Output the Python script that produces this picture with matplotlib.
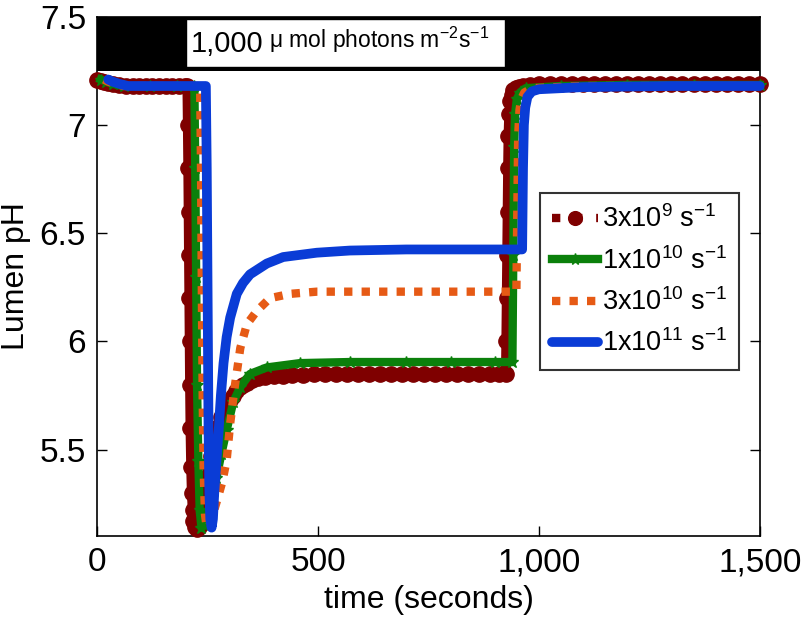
import matplotlib
matplotlib.use("Agg")
import matplotlib.pyplot as plt
from matplotlib.patches import Rectangle
from matplotlib.lines import Line2D

plt.rcParams['font.family'] = ['Liberation Sans', 'DejaVu Sans']
plt.rcParams['mathtext.fontset'] = 'custom'
plt.rcParams['mathtext.rm'] = 'Liberation Sans'
plt.rcParams['mathtext.it'] = 'Liberation Sans:italic'

# ---- data ----
red_t = [0, 8, 16, 25, 35, 50, 65, 80, 95, 110, 125, 140, 155, 170, 185, 198, 204,
         205, 206, 206.8, 207.6, 208.4, 209.2, 210, 211, 212.5, 214, 216, 218, 221, 226,
         230, 234, 238, 242, 246, 250, 254, 258, 263, 269, 275, 280, 286, 293, 300, 308,
         315, 323, 331, 340, 350, 365, 380, 400, 420, 440, 465, 490, 515, 540, 565, 590,
         615, 640, 665, 690, 715, 740, 765, 790, 815, 840, 865, 890, 910, 925,
         926, 927, 928, 929, 930, 931, 932.5, 935, 938, 942, 948, 955, 965, 980, 1000,
         1025, 1050, 1075, 1100, 1125, 1150, 1175, 1200, 1225, 1250, 1275, 1300, 1325,
         1350, 1375, 1400, 1425, 1450, 1475, 1500]
red_ph = [7.21, 7.205, 7.20, 7.195, 7.19, 7.185, 7.18, 7.18, 7.18, 7.18, 7.18, 7.18,
          7.18, 7.18, 7.18, 7.18, 7.18,
          7.00, 6.80, 6.60, 6.40, 6.20, 6.00, 5.80, 5.60, 5.42, 5.30, 5.22, 5.17, 5.145,
          5.135, 5.145, 5.17, 5.21, 5.26, 5.32, 5.38, 5.43, 5.47, 5.52, 5.57, 5.61, 5.65,
          5.68, 5.71, 5.73, 5.75, 5.77, 5.79, 5.80, 5.81, 5.82, 5.83, 5.835, 5.84, 5.84,
          5.845, 5.845, 5.85, 5.85, 5.85, 5.85, 5.85, 5.85, 5.85, 5.85, 5.85, 5.85, 5.85,
          5.85, 5.85, 5.85, 5.85, 5.85, 5.85, 5.85, 5.85,
          6.00, 6.20, 6.40, 6.60, 6.80, 6.95, 7.05, 7.11, 7.14, 7.16, 7.17, 7.175, 7.18,
          7.185, 7.19, 7.19, 7.19, 7.19, 7.19, 7.19, 7.19, 7.19, 7.19, 7.19, 7.19, 7.19,
          7.19, 7.19, 7.19, 7.19, 7.19, 7.19, 7.19, 7.19, 7.19]

green_t = [8, 20, 35, 60, 120, 180, 220, 222, 224, 226, 229, 232, 236, 242, 250, 260, 270,
           281, 293, 308, 324, 346, 384, 459, 572, 700, 800, 900, 940, 942, 944, 946, 950,
           957, 970, 1050, 1200, 1350, 1500]
green_ph = [7.21, 7.20, 7.19, 7.18, 7.18, 7.18, 7.18, 6.80, 6.30, 5.80, 5.45, 5.22, 5.14,
            5.15, 5.20, 5.28, 5.37, 5.48, 5.59, 5.72, 5.79, 5.85, 5.88, 5.90, 5.905, 5.905,
            5.905, 5.905, 5.905, 6.40, 6.90, 7.05, 7.12, 7.15, 7.17, 7.18, 7.185, 7.185, 7.185]

orange_t = [15, 25, 40, 60, 120, 180, 233, 235, 237, 239, 241, 244, 248, 254, 262, 272,
            283, 293, 301, 312, 324, 339, 361, 391, 437, 497, 600, 700, 800, 900, 949, 951,
            953, 956, 960, 967, 985, 1100, 1300, 1500]
orange_ph = [7.21, 7.20, 7.19, 7.18, 7.18, 7.18, 7.18, 6.80, 6.20, 5.70, 5.40, 5.20, 5.14,
             5.15, 5.20, 5.27, 5.35, 5.45, 5.62, 5.80, 5.97, 6.08, 6.14, 6.20, 6.22, 6.23,
             6.23, 6.23, 6.23, 6.23, 6.23, 6.60, 6.95, 7.07, 7.12, 7.15, 7.17, 7.18, 7.18, 7.18]

blue_t = [25, 35, 50, 70, 120, 180, 246, 248, 250, 252, 254, 256, 259, 262, 265, 270, 275,
          280, 286, 293, 301, 316, 330, 346, 384, 421, 497, 572, 700, 800, 900, 962, 964,
          966, 969, 974, 984, 1000, 1100, 1300, 1500]
blue_ph = [7.21, 7.20, 7.19, 7.18, 7.18, 7.18, 7.18, 6.80, 6.20, 5.60, 5.30, 5.18, 5.14,
           5.18, 5.30, 5.45, 5.59, 5.75, 5.90, 6.02, 6.11, 6.22, 6.27, 6.31, 6.36, 6.39,
           6.41, 6.42, 6.425, 6.425, 6.425, 6.425, 6.80, 7.00, 7.08, 7.13, 7.155, 7.165,
           7.175, 7.18, 7.18]

labels = ["3x10$^{9}$ s$^{-1}$", "1x10$^{10}$ s$^{-1}$",
          "3x10$^{10}$ s$^{-1}$", "1x10$^{11}$ s$^{-1}$"]

x_ticks = [0, 500, 1000, 1500]
x_ticklabels = ["0", "500", "1,000", "1,500"]
y_ticks = [5.5, 6.0, 6.5, 7.0, 7.5]
y_ticklabels = ["5.5", "6", "6.5", "7", "7.5"]

light_on, light_off = 201, 923

# ---- figure ----
fig = plt.figure(figsize=(8.1, 6.2), dpi=100)
ax = fig.add_axes([0.12, 0.135, 0.818, 0.838])

ax.set_xlim(0, 1500)
ax.set_ylim(5.1, 7.5)

# light band
ax.add_patch(Rectangle((0, 7.25), 1500, 0.25, facecolor='black', edgecolor='none', zorder=1))
ax.add_patch(Rectangle((light_on, 7.27), light_off - light_on, 0.22, facecolor='white',
                       edgecolor='black', lw=1.0, zorder=2))
t1 = ax.text(212, 7.375, "1,000", fontsize=21, va='center', ha='left', zorder=3)
ax.annotate(" \u03bc mol photons m$^{-2}$s$^{-1}$", xy=(1, 0.1), xycoords=t1,
            fontsize=16.5, va='bottom', ha='left', zorder=3)

red_c = '#7f0000'
green_c = '#0b800b'
orange_c = '#e65a15'
blue_c = '#0a3cd6'

ax.plot(red_t, red_ph, color=red_c, lw=7, ls='-', marker='o', ms=11,
        mec=red_c, mfc=red_c, clip_on=False, zorder=4)
l2, = ax.plot(green_t, green_ph, color=green_c, lw=6, ls='-', marker='*', ms=9,
              mec=green_c, mfc=green_c, clip_on=False, zorder=5, label=labels[1])
l3, = ax.plot(orange_t, orange_ph, color=orange_c, lw=6, ls=(0, (1, 1.1)),
              clip_on=False, zorder=6, label=labels[2])
l4, = ax.plot(blue_t, blue_ph, color=blue_c, lw=7, ls='-', solid_capstyle='round',
              solid_joinstyle='round', clip_on=False, zorder=7, label=labels[3])
l1 = Line2D([], [], color=red_c, lw=6, ls=':', marker='o', ms=11, mec=red_c,
            mfc=red_c, label=labels[0])

ax.set_xticks(x_ticks)
ax.set_xticklabels(x_ticklabels)
ax.set_yticks(y_ticks)
ax.set_yticklabels(y_ticklabels)
ax.tick_params(direction='in', length=7, width=1, labelsize=24, top=False, right=True,
               pad=8)
for s in ax.spines.values():
    s.set_linewidth(1.2)

ax.set_xlabel("time (seconds)", fontsize=23, labelpad=5)
ax.set_ylabel("Lumen pH", fontsize=23, labelpad=6)

leg = ax.legend(handles=[l1, l2, l3, l4], loc='upper left', bbox_to_anchor=(0.668, 0.66),
                fontsize=19.5, frameon=True, fancybox=False, handlelength=1.7,
                handletextpad=0.15, borderpad=0.45, labelspacing=0.5, borderaxespad=0,
                markerscale=0.9)
leg.get_frame().set_edgecolor('black')
leg.get_frame().set_linewidth(1.5)
leg.set_zorder(10)

fig.savefig("out.png", dpi=100)
